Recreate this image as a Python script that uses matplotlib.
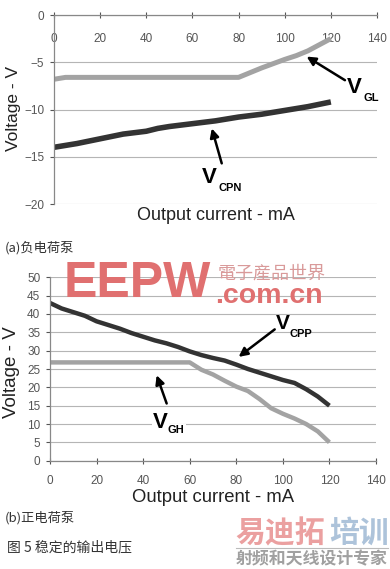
import matplotlib
matplotlib.use("Agg")
import matplotlib.pyplot as plt
from matplotlib.lines import Line2D

plt.rcParams['font.family'] = ['Liberation Sans', 'Noto Sans CJK SC', 'DejaVu Sans']

# (a) negative charge pump
vgl_x = [0, 5, 80, 90, 100, 105, 110, 120]
vgl_y = [-6.8, -6.6, -6.6, -5.6, -4.7, -4.3, -3.8, -2.5]
vcpn_x = [0, 5, 10, 20, 30, 40, 45, 50, 60, 70, 75, 80, 90, 100, 110, 120]
vcpn_y = [-14.0, -13.8, -13.6, -13.1, -12.6, -12.3, -12.0, -11.8, -11.5, -11.2, -11.0,
          -10.8, -10.5, -10.1, -9.7, -9.2]

# (b) positive charge pump
vcpp_x = [0, 5, 10, 15, 20, 25, 30, 35, 40, 45, 50, 55, 60, 65, 70, 75, 80, 85, 90, 95,
          100, 105, 110, 115, 120]
vcpp_y = [43, 41.5, 40.5, 39.5, 38, 37, 36, 34.8, 33.8, 32.8, 32, 31, 29.8, 28.8, 28, 27.3,
          26.2, 25, 24, 23, 22, 21.2, 19.5, 17.5, 15]
vgh_x = [0, 5, 60, 65, 70, 75, 80, 85, 90, 95, 100, 105, 110, 115, 120]
vgh_y = [26.8, 26.8, 26.8, 24.8, 23.5, 21.8, 20.2, 19.0, 16.8, 14.3, 12.8, 11.5, 10.0, 8.0, 5.0]

xticks = [0, 20, 40, 60, 80, 100, 120, 140]
top_yticks = [0, -5, -10, -15, -20]
bot_yticks = [0, 5, 10, 15, 20, 25, 30, 35, 40, 45, 50]

W, H = 390, 569
light = '#a3a3a3'
dark = '#333333'
grid_c = '#b5b5b5'
tick_c = '#555555'
cjk = ['Noto Sans CJK SC', 'DejaVu Sans']

fig = plt.figure(figsize=(W / 100, H / 100), dpi=100)

def fx(px):
    return px / W

def fy(py):
    return 1 - py / H

def vlabel(ax, x, y, sub, dx, size=16, subsize=8):
    ax.text(x, y, 'V', fontsize=size, fontweight='bold', ha='left', va='baseline', color='black')
    ax.text(x + dx, y, sub, fontsize=subsize, fontweight='bold', ha='left', va='top',
            color='black', clip_on=False)

def arrow(ax, tip, tail):
    ax.annotate('', xy=tip, xytext=tail,
                arrowprops=dict(arrowstyle='-|>', color='black', lw=1.8, mutation_scale=13,
                                shrinkA=0, shrinkB=0))

# ---- top chart ----
ax1 = fig.add_axes([fx(54), fy(204), fx(377 - 54), (204 - 15) / H])
ax1.plot(vgl_x, vgl_y, color=light, lw=3.6, solid_capstyle='butt')
ax1.plot(vcpn_x, vcpn_y, color=dark, lw=4.0, solid_capstyle='butt')
ax1.set_xlim(0, 140)
ax1.set_ylim(-20, 0)
ax1.set_xticks(xticks)
ax1.set_yticks(top_yticks)
ax1.yaxis.grid(True, color=grid_c, lw=0.8)
ax1.set_axisbelow(True)
for s in ['right', 'bottom']:
    ax1.spines[s].set_visible(False)
for s in ['top', 'left']:
    ax1.spines[s].set_color('#888888')
    ax1.spines[s].set_linewidth(0.9)
ax1.tick_params(axis='x', top=True, bottom=False, labeltop=True, labelbottom=False,
                direction='inout', length=4, pad=-15, labelsize=8.5, colors=tick_c)
ax1.tick_params(axis='y', direction='out', length=3, pad=4, labelsize=8.5, colors=tick_c)
for lab in ax1.get_xticklabels():
    lab.set_va('top')

vlabel(ax1, 127, -8.3, 'GL', 7.0)
arrow(ax1, (109.5, -4.4), (126.1, -6.9))
vlabel(ax1, 64.2, -17.8, 'CPN', 7.0)
arrow(ax1, (68.4, -12.0), (72.7, -15.7))

fig.text(fx(216), fy(215), 'Output current - mA', fontsize=13, ha='center', va='center', color='#222222')
fig.text(fx(14), fy(108), 'Voltage - V', fontsize=12.5, rotation=90, ha='center', va='center', color='#222222')
fig.text(fx(5), fy(248), '(a)负电荷泵', fontsize=9.5, ha='left', va='center', family=cjk, color='#333333')

# ---- bottom chart ----
ax2 = fig.add_axes([fx(50), fy(460.7), fx(376 - 50), (460.7 - 277.3) / H])
ax2.plot(vgh_x, vgh_y, color=light, lw=3.2, solid_capstyle='butt')
ax2.plot(vcpp_x, vcpp_y, color=dark, lw=3.2, solid_capstyle='butt')
ax2.set_xlim(0, 140)
ax2.set_ylim(0, 50)
ax2.set_xticks(xticks)
ax2.set_yticks(bot_yticks)
ax2.yaxis.grid(True, color=grid_c, lw=0.8)
ax2.set_axisbelow(True)
for s in ['right', 'top']:
    ax2.spines[s].set_visible(False)
for s in ['bottom', 'left']:
    ax2.spines[s].set_color('#888888')
    ax2.spines[s].set_linewidth(0.9)
ax2.tick_params(axis='x', direction='inout', length=4, pad=8, labelsize=8.5, colors=tick_c)
ax2.tick_params(axis='y', direction='out', length=3, pad=4, labelsize=8.5, colors=tick_c)

vlabel(ax2, 97.0, 35.8, 'CPP', 5.8, size=15)
arrow(ax2, (81, 28.3), (96.5, 35.8))
ax2.text(44.2, 8.9, 'V', fontsize=16, fontweight='bold', ha='left', va='baseline',
         bbox=dict(facecolor='white', edgecolor='none', pad=1))
ax2.text(50.6, 9.6, 'GH', fontsize=8, fontweight='bold', ha='left', va='top',
         bbox=dict(facecolor='white', edgecolor='none', pad=1))
arrow(ax2, (45.8, 23.3), (50.1, 15.6))

fig.text(fx(213), fy(497), 'Output current - mA', fontsize=13.3, ha='center', va='center', color='#222222')
fig.text(fx(12), fy(372), 'Voltage - V', fontsize=13.5, rotation=90, ha='center', va='center', color='#222222')
fig.text(fx(5), fy(518), '(b)正电荷泵', fontsize=9.5, ha='left', va='center', family=cjk, color='#333333')
fig.text(fx(7), fy(547), '图 5 稳定的输出电压', fontsize=10, ha='left', va='center', family=cjk, color='#333333')

# ---- watermarks ----
fig.text(fx(64), fy(284), 'EEPW', fontsize=36, fontweight='bold', ha='left', va='center',
         color='#e07070', family=['Liberation Sans'])
fig.text(fx(218), fy(274), '電子産品世界', fontsize=13, ha='left', va='center',
         color='#d99a9a', family=['Noto Sans CJK TC', 'Noto Sans CJK JP'])
fig.text(fx(215), fy(296), '.com.cn', fontsize=20.5, fontweight='bold', ha='left', va='center',
         color='#e07070', family=['Liberation Sans'])
fig.text(fx(235), fy(533), '易迪拓', fontsize=21.5, fontweight='bold', ha='left', va='center',
         color='#eba0a0', family=cjk)
fig.text(fx(329), fy(533), '培训', fontsize=21.5, fontweight='bold', ha='left', va='center',
         color='#adc3da', family=cjk)
fig.add_artist(Line2D([fx(236), fx(388)], [fy(548), fy(548)], color='#bbbbbb', lw=0.8))
fig.text(fx(236), fy(559), '射频和天线设计专家', fontsize=12.2, fontweight='bold', ha='left', va='center',
         color='#a0a0a0', family=cjk)

fig.savefig('out.png', dpi=100)
